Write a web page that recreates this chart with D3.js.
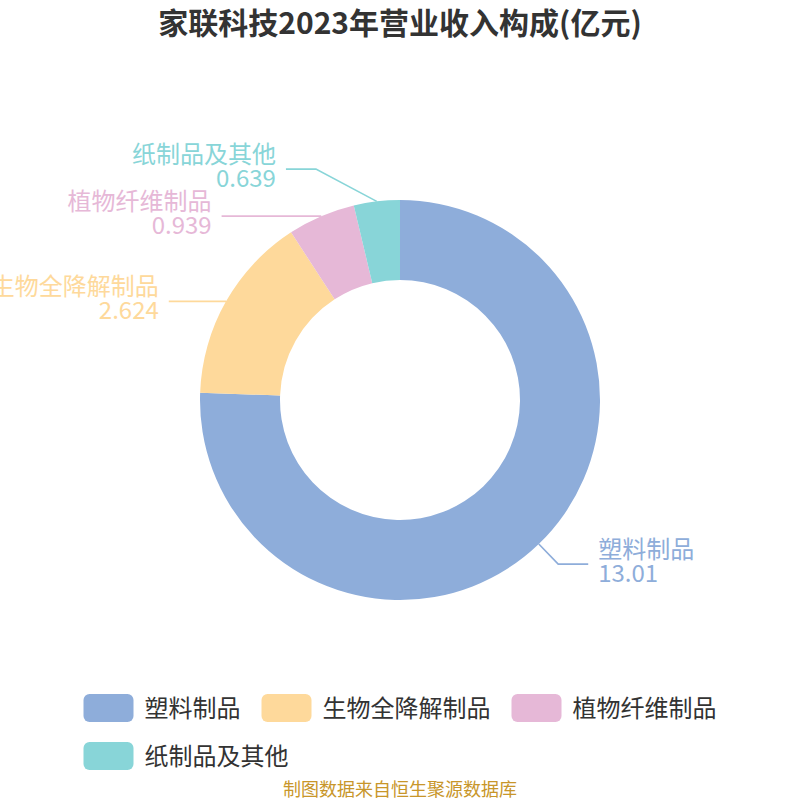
<!DOCTYPE html>
<html>
<head>
<meta charset="utf-8">
<script src="https://cdn.jsdelivr.net/npm/d3@7"></script>
<style>
  html, body { margin: 0; padding: 0; background: #fff; }
  svg { display: block; font-family: "Noto Sans CJK SC", "Noto Sans", sans-serif; }
</style>
</head>
<body>
<svg id="chart" width="800" height="800"></svg>
<script>
const titleText = "家联科技2023年营业收入构成(亿元)";
const categories = ["塑料制品", "生物全降解制品", "植物纤维制品", "纸制品及其他"];
const values = [13.01, 2.624, 0.939, 0.639];
const valueLabels = ["13.01", "2.624", "0.939", "0.639"];
const colors = ["#8eadda", "#fed99b", "#e6b8d7", "#88d5d8"];
const sourceText = "制图数据来自恒生聚源数据库";

const W = 800, H = 800;
const cx = 400, cy = 400, rOuter = 200, rInner = 120;
const L1 = 28, L2 = 30, textGap = 10, labelMinGap = 47;
const ellA = rOuter + 19, ellB = rOuter + 50;

const svg = d3.select("#chart");

// Title
svg.append("text")
  .attr("x", W / 2).attr("y", 34)
  .attr("text-anchor", "middle")
  .attr("font-size", 30).attr("font-weight", "bold")
  .attr("fill", "#333333")
  .text(titleText);

const data = categories.map((c, i) => ({ name: c, value: values[i], label: valueLabels[i], color: colors[i] }));

const pie = d3.pie().value(d => d.value).sort(null).startAngle(0).endAngle(2 * Math.PI);
const arcs = pie(data);
const arcGen = d3.arc().innerRadius(rInner).outerRadius(rOuter);

const g = svg.append("g").attr("transform", `translate(${cx},${cy})`);
g.selectAll("path.slice").data(arcs).enter().append("path")
  .attr("class", "slice")
  .attr("d", arcGen)
  .attr("fill", d => d.data.color);

// Label layout
const items = arcs.map(a => {
  const mid = (a.startAngle + a.endAngle) / 2;
  const sx = Math.sin(mid), sy = -Math.cos(mid);
  const dir = sx >= 0 ? 1 : -1;
  return {
    a, dir,
    p1: [rOuter * sx, rOuter * sy],
    elbow: [(rOuter + L1) * sx, (rOuter + L1) * sy],
    y: rOuter * sy
  };
});

[1, -1].forEach(dir => {
  const side = items.filter(it => it.dir === dir).sort((p, q) => p.y - q.y);
  if (side.length < 2) return;
  // push overlapping labels upward, starting from the bottom one
  for (let i = side.length - 2; i >= 0; i--) {
    if (side[i + 1].y - side[i].y < labelMinGap) side[i].y = side[i + 1].y - labelMinGap;
  }
  side.forEach(it => {
    const dy = Math.abs(it.y);
    const dx = ellA * Math.sqrt(Math.max(0, 1 - (dy * dy) / (ellB * ellB)));
    it.elbow = [dir * dx, it.y];
  });
});

items.forEach(it => {
  const end = [it.elbow[0] + it.dir * L2, it.elbow[1]];
  const col = it.a.data.color;
  g.append("polyline")
    .attr("points", [it.p1, it.elbow, end].map(p => p.join(",")).join(" "))
    .attr("fill", "none")
    .attr("stroke", col)
    .attr("stroke-width", 1.6);
  const tx = end[0] + it.dir * textGap;
  const anchor = it.dir > 0 ? "start" : "end";
  g.append("text")
    .attr("x", tx).attr("y", end[1] - 6)
    .attr("text-anchor", anchor)
    .attr("font-size", 24)
    .attr("fill", col)
    .text(it.a.data.name);
  g.append("text")
    .attr("x", tx).attr("y", end[1] + 18)
    .attr("text-anchor", anchor)
    .attr("font-size", 24)
    .attr("fill", col)
    .text(it.a.data.label);
});

// Legend
const legendTop = 694, rowH = 48, rectW = 50, rectH = 28, itemGap = 21, textOff = 11, maxRowW = 700;
const legend = svg.append("g");
const measured = data.map(d => {
  const t = legend.append("text").attr("font-size", 24).text(d.name);
  const w = t.node().getComputedTextLength();
  t.remove();
  return { d, w: rectW + textOff + w };
});
const rows = [];
let cur = [], curW = 0;
measured.forEach(m => {
  const add = (cur.length ? itemGap : 0) + m.w;
  if (cur.length && curW + add > maxRowW) { rows.push({ items: cur, w: curW }); cur = []; curW = 0; }
  curW += (cur.length ? itemGap : 0) + m.w;
  cur.push(m);
});
if (cur.length) rows.push({ items: cur, w: curW });
const legendW = d3.max(rows, r => r.w);
const legendLeft = (W - legendW) / 2;
rows.forEach((row, ri) => {
  let x = legendLeft;
  const y = legendTop + ri * rowH;
  row.items.forEach(m => {
    legend.append("rect")
      .attr("x", x).attr("y", y)
      .attr("width", rectW).attr("height", rectH)
      .attr("rx", 6).attr("ry", 6)
      .attr("fill", m.d.color);
    legend.append("text")
      .attr("x", x + rectW + textOff).attr("y", y + rectH / 2 + 8.5)
      .attr("font-size", 24)
      .attr("fill", "#333333")
      .text(m.d.name);
    x += m.w + itemGap;
  });
});

// Source
svg.append("text")
  .attr("x", W / 2).attr("y", 796)
  .attr("text-anchor", "middle")
  .attr("font-size", 18)
  .attr("fill", "#c8962a")
  .text(sourceText);
</script>
</body>
</html>
